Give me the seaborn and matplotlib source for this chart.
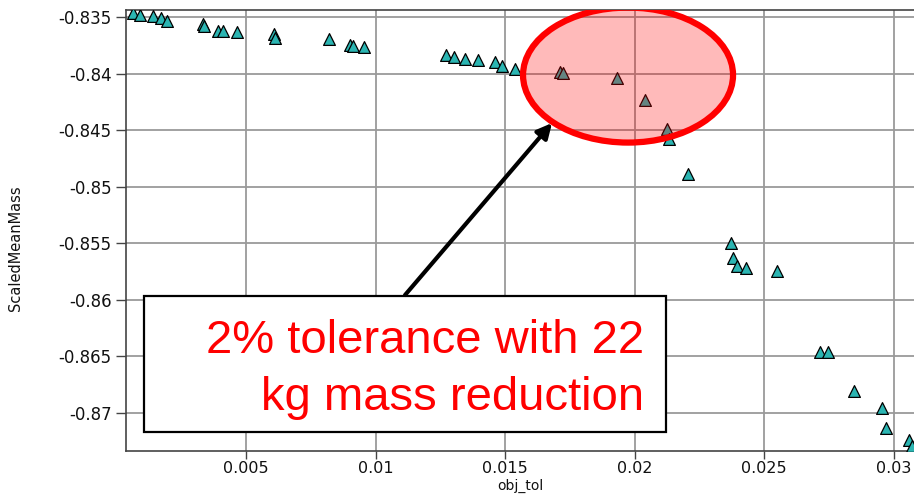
import numpy as np
import matplotlib
matplotlib.use('Agg')
import matplotlib.pyplot as plt
from matplotlib.patches import Ellipse, Rectangle
import seaborn as sns

obj_tol = [0.00064, 0.00091, 0.00141, 0.00172, 0.00195, 0.00334, 0.00336, 0.00392,
           0.00411, 0.00465, 0.00608, 0.00612, 0.00821, 0.00902, 0.00913, 0.00956,
           0.01272, 0.01303, 0.01346, 0.01396, 0.01461, 0.01488, 0.01539, 0.01712,
           0.01724, 0.01932, 0.02041, 0.02126, 0.02133, 0.02207, 0.02373, 0.02380,
           0.02396, 0.02431, 0.02550, 0.02716, 0.02747, 0.02848, 0.02956, 0.02971,
           0.03060, 0.03071]
scaled_mean_mass = [-0.83462, -0.83480, -0.83489, -0.83506, -0.83533, -0.83559, -0.83577, -0.83621,
                    -0.83621, -0.83630, -0.83648, -0.83684, -0.83692, -0.83745, -0.83750, -0.83763,
                    -0.83834, -0.83851, -0.83869, -0.83878, -0.83896, -0.83931, -0.83958, -0.83984,
                    -0.83993, -0.84037, -0.84232, -0.84489, -0.84577, -0.84887, -0.85498, -0.85631,
                    -0.85702, -0.85719, -0.85746, -0.86463, -0.86463, -0.86808, -0.86958, -0.87135,
                    -0.87241, -0.87294]

x_ticks = [0.005, 0.01, 0.015, 0.02, 0.025, 0.03]
x_tick_labels = ['0.005', '0.01', '0.015', '0.02', '0.025', '0.03']
y_ticks = [-0.835, -0.84, -0.845, -0.85, -0.855, -0.86, -0.865, -0.87]
y_tick_labels = ['-0.835', '-0.84', '-0.845', '-0.85', '-0.855', '-0.86', '-0.865', '-0.87']

note_lines = ['2% tolerance with 22', 'kg mass reduction']

sns.set_style('white')
plt.rcParams['font.family'] = ['DejaVu Sans']

fig = plt.figure(figsize=(9.14, 4.94), dpi=100)
ax = fig.add_axes([0.1379, 0.0870, 0.8621, 0.8928])

sns.scatterplot(x=obj_tol, y=scaled_mean_mass, marker='^', s=72, color='#2BB5B2',
                edgecolor='black', linewidth=0.9, ax=ax, zorder=3)

ax.set_xlim(0.000367, 0.03079)
ax.set_ylim(-0.87338, -0.83435)
ax.set_xticks(x_ticks)
ax.set_xticklabels(x_tick_labels)
ax.set_yticks(y_ticks)
ax.set_yticklabels(y_tick_labels)
ax.tick_params(axis='both', direction='out', length=7, width=1, color='#444444',
               labelsize=12, labelcolor='#111111', left=True, bottom=True)
ax.tick_params(axis='x', length=6, pad=1, labelsize=11.5)
ax.grid(True, color='#9a9a9a', linewidth=1.3)
ax.set_axisbelow(True)
for side in ['left', 'bottom', 'top']:
    ax.spines[side].set_color('#444444')
    ax.spines[side].set_linewidth(1.2)
ax.spines['right'].set_visible(False)

ax.set_xlabel('obj_tol', fontsize=10, color='#111111')
ax.set_ylabel('ScaledMeanMass', fontsize=10.5, color='#111111')
ax.xaxis.set_label_coords(0.5, -0.064)
ax.yaxis.set_label_coords(-0.131, 0.46)

# highlight region
ell = Ellipse((0.019749, -0.84011), 0.008108, 0.011947, facecolor=(1, 0, 0, 0.27),
              edgecolor='#ff0000', linewidth=4.5, zorder=4)
ax.add_patch(ell)

# callout box
box = Rectangle((0.02284, 0.04308), 0.6624, 0.3084, transform=ax.transAxes,
                facecolor='white', edgecolor='black', linewidth=1.6, zorder=5)
ax.add_patch(box)
ax.text(0.6574, 0.2222, note_lines[0], transform=ax.transAxes, ha='right', va='baseline',
        fontsize=34, color='#ff0000', family='Liberation Sans', zorder=6)
ax.text(0.6574, 0.0930, note_lines[1], transform=ax.transAxes, ha='right', va='baseline',
        fontsize=34, color='#ff0000', family='Liberation Sans', zorder=6)

ax.annotate('', xy=(0.016815, -0.844354), xytext=(0.011139, -0.859575),
            arrowprops=dict(arrowstyle='-|>', lw=3, color='black', mutation_scale=22,
                            shrinkA=0, shrinkB=0), zorder=6)

fig.savefig('out.png', dpi=100)
